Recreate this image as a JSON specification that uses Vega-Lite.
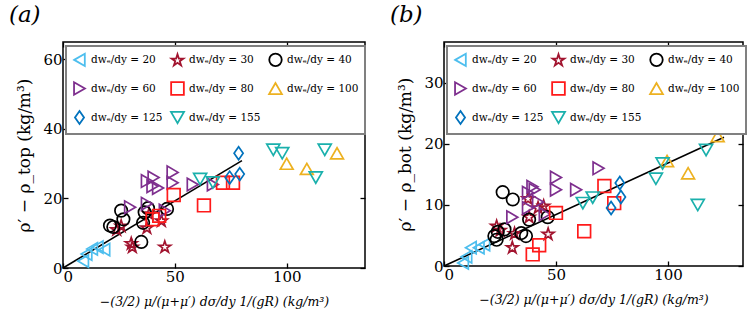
{
  "$schema": "https://vega.github.io/schema/vega-lite/v6.json",
  "padding": {"left": 8, "top": 3, "right": 3, "bottom": 3},
  "background": "white",
  "config": {
    "font": "DejaVu Serif",
    "view": {"stroke": "black", "strokeWidth": 1.5},
    "axis": {"domain": false, "grid": false, "ticks": true, "tickSize": -5, "tickColor": "black", "tickWidth": 1.3, "labelFontSize": 15, "labelColor": "black", "titleColor": "black", "labelFont": "DejaVu Serif", "titleFont": "DejaVu Serif", "titleFontWeight": "normal", "labelPadding": 6},
    "legend": {"labelFont": "DejaVu Serif", "labelFontSize": 10.5, "labelColor": "black", "symbolStrokeWidth": 1.8, "symbolSize": 55, "strokeColor": "#808080", "strokeWidth": 2, "fillColor": "white", "padding": 6, "rowPadding": 8, "columnPadding": 4, "gridAlign": "all", "labelLimit": 200, "direction": "horizontal", "labelOffset": 4},
    "concat": {"spacing": 22}
  },
  "resolve": {"scale": {"color": "independent", "shape": "independent", "size": "independent"}, "legend": {"color": "independent", "shape": "independent"}},
  "datasets": {
    "a": [
      {"s": "dwₑ/dy = 20", "x": 9, "y": 2}, {"s": "dwₑ/dy = 20", "x": 10.5, "y": 4}, {"s": "dwₑ/dy = 20", "x": 13, "y": 5.5}, {"s": "dwₑ/dy = 20", "x": 15.5, "y": 6}, {"s": "dwₑ/dy = 20", "x": 18.5, "y": 5.3},
      {"s": "dwₑ/dy = 30", "x": 24, "y": 11}, {"s": "dwₑ/dy = 30", "x": 26, "y": 12}, {"s": "dwₑ/dy = 30", "x": 30.5, "y": 7}, {"s": "dwₑ/dy = 30", "x": 31, "y": 6}, {"s": "dwₑ/dy = 30", "x": 37.5, "y": 11.5}, {"s": "dwₑ/dy = 30", "x": 38.5, "y": 15.5}, {"s": "dwₑ/dy = 30", "x": 44, "y": 13.5}, {"s": "dwₑ/dy = 30", "x": 45.5, "y": 6},
      {"s": "dwₑ/dy = 40", "x": 21, "y": 12.2}, {"s": "dwₑ/dy = 40", "x": 22.5, "y": 11.8}, {"s": "dwₑ/dy = 40", "x": 26, "y": 16.5}, {"s": "dwₑ/dy = 40", "x": 27, "y": 14}, {"s": "dwₑ/dy = 40", "x": 35, "y": 7.5}, {"s": "dwₑ/dy = 40", "x": 35.8, "y": 13}, {"s": "dwₑ/dy = 40", "x": 36.5, "y": 16}, {"s": "dwₑ/dy = 40", "x": 38, "y": 17.2}, {"s": "dwₑ/dy = 40", "x": 46.5, "y": 17},
      {"s": "dwₑ/dy = 60", "x": 30, "y": 17.5}, {"s": "dwₑ/dy = 60", "x": 37.5, "y": 18.5}, {"s": "dwₑ/dy = 60", "x": 37.5, "y": 25}, {"s": "dwₑ/dy = 60", "x": 40, "y": 23.5}, {"s": "dwₑ/dy = 60", "x": 40.5, "y": 26}, {"s": "dwₑ/dy = 60", "x": 42.5, "y": 23}, {"s": "dwₑ/dy = 60", "x": 45.5, "y": 16.5}, {"s": "dwₑ/dy = 60", "x": 49, "y": 27.5}, {"s": "dwₑ/dy = 60", "x": 49, "y": 24.5}, {"s": "dwₑ/dy = 60", "x": 58, "y": 24}, {"s": "dwₑ/dy = 60", "x": 67, "y": 24},
      {"s": "dwₑ/dy = 80", "x": 40, "y": 14}, {"s": "dwₑ/dy = 80", "x": 43, "y": 15}, {"s": "dwₑ/dy = 80", "x": 49.5, "y": 21}, {"s": "dwₑ/dy = 80", "x": 63, "y": 18}, {"s": "dwₑ/dy = 80", "x": 71.5, "y": 24.5}, {"s": "dwₑ/dy = 80", "x": 76, "y": 24.5},
      {"s": "dwₑ/dy = 100", "x": 100, "y": 30}, {"s": "dwₑ/dy = 100", "x": 109, "y": 28.5}, {"s": "dwₑ/dy = 100", "x": 122.5, "y": 33},
      {"s": "dwₑ/dy = 125", "x": 74.5, "y": 26}, {"s": "dwₑ/dy = 125", "x": 78.5, "y": 33}, {"s": "dwₑ/dy = 125", "x": 79, "y": 27},
      {"s": "dwₑ/dy = 155", "x": 61.3, "y": 25.6}, {"s": "dwₑ/dy = 155", "x": 67, "y": 24.6}, {"s": "dwₑ/dy = 155", "x": 94, "y": 34}, {"s": "dwₑ/dy = 155", "x": 98, "y": 33}, {"s": "dwₑ/dy = 155", "x": 113, "y": 26}, {"s": "dwₑ/dy = 155", "x": 117, "y": 34}
    ],
    "b": [
      {"s": "dwₑ/dy = 20", "x": 8.5, "y": 0.5}, {"s": "dwₑ/dy = 20", "x": 10, "y": 1.5}, {"s": "dwₑ/dy = 20", "x": 12, "y": 3}, {"s": "dwₑ/dy = 20", "x": 15.5, "y": 3}, {"s": "dwₑ/dy = 20", "x": 18, "y": 3.5},
      {"s": "dwₑ/dy = 30", "x": 23.5, "y": 6.5}, {"s": "dwₑ/dy = 30", "x": 25, "y": 5.8}, {"s": "dwₑ/dy = 30", "x": 30.5, "y": 3}, {"s": "dwₑ/dy = 30", "x": 31.5, "y": 5.3}, {"s": "dwₑ/dy = 30", "x": 37.5, "y": 11}, {"s": "dwₑ/dy = 30", "x": 38, "y": 8}, {"s": "dwₑ/dy = 30", "x": 42, "y": 9.5}, {"s": "dwₑ/dy = 30", "x": 44.5, "y": 9.8}, {"s": "dwₑ/dy = 30", "x": 46.5, "y": 5.2},
      {"s": "dwₑ/dy = 40", "x": 22.5, "y": 4.9}, {"s": "dwₑ/dy = 40", "x": 23.5, "y": 4.3}, {"s": "dwₑ/dy = 40", "x": 24, "y": 5.6}, {"s": "dwₑ/dy = 40", "x": 26.2, "y": 12.1}, {"s": "dwₑ/dy = 40", "x": 27, "y": 6}, {"s": "dwₑ/dy = 40", "x": 30.7, "y": 10.9}, {"s": "dwₑ/dy = 40", "x": 34.5, "y": 5.4}, {"s": "dwₑ/dy = 40", "x": 36.6, "y": 4.9}, {"s": "dwₑ/dy = 40", "x": 38, "y": 7.6}, {"s": "dwₑ/dy = 40", "x": 46.3, "y": 8},
      {"s": "dwₑ/dy = 60", "x": 30.5, "y": 8}, {"s": "dwₑ/dy = 60", "x": 37.5, "y": 9.5}, {"s": "dwₑ/dy = 60", "x": 37.5, "y": 12}, {"s": "dwₑ/dy = 60", "x": 39.5, "y": 13}, {"s": "dwₑ/dy = 60", "x": 40.5, "y": 12.5}, {"s": "dwₑ/dy = 60", "x": 42, "y": 10.5}, {"s": "dwₑ/dy = 60", "x": 45, "y": 8.5}, {"s": "dwₑ/dy = 60", "x": 50, "y": 14.5}, {"s": "dwₑ/dy = 60", "x": 50, "y": 12.5}, {"s": "dwₑ/dy = 60", "x": 59, "y": 12.5}, {"s": "dwₑ/dy = 60", "x": 69, "y": 16},
      {"s": "dwₑ/dy = 80", "x": 39.6, "y": 1.9}, {"s": "dwₑ/dy = 80", "x": 42.5, "y": 3.4}, {"s": "dwₑ/dy = 80", "x": 50, "y": 8.7}, {"s": "dwₑ/dy = 80", "x": 62.6, "y": 5.7}, {"s": "dwₑ/dy = 80", "x": 71.6, "y": 13.1}, {"s": "dwₑ/dy = 80", "x": 76, "y": 10.3},
      {"s": "dwₑ/dy = 100", "x": 99.6, "y": 17.2}, {"s": "dwₑ/dy = 100", "x": 109, "y": 15.2}, {"s": "dwₑ/dy = 100", "x": 122.2, "y": 21.3},
      {"s": "dwₑ/dy = 125", "x": 74.6, "y": 9.5}, {"s": "dwₑ/dy = 125", "x": 78.5, "y": 13.6}, {"s": "dwₑ/dy = 125", "x": 79, "y": 11.3},
      {"s": "dwₑ/dy = 155", "x": 62, "y": 10.3}, {"s": "dwₑ/dy = 155", "x": 66.4, "y": 11.2}, {"s": "dwₑ/dy = 155", "x": 94.6, "y": 14.3}, {"s": "dwₑ/dy = 155", "x": 97.6, "y": 16.8}, {"s": "dwₑ/dy = 155", "x": 113.3, "y": 10}, {"s": "dwₑ/dy = 155", "x": 117, "y": 19}
    ],
    "fitA": [{"x": 0, "y": 0}, {"x": 80, "y": 30.9}],
    "fitB": [{"x": 0, "y": 0}, {"x": 125, "y": 21.1}]
  },
  "hconcat": [
    {
      "title": {"text": "(a)", "anchor": "start", "fontSize": 23, "fontStyle": "italic", "font": "DejaVu Serif", "fontWeight": "normal", "offset": 14, "frame": "bounds", "color": "black", "dx": -7},
      "width": 302, "height": 226,
      "layer": [
        {
          "data": {"name": "fitA"},
          "mark": {"type": "line", "color": "black", "strokeWidth": 1.6},
          "encoding": {
            "x": {"field": "x", "type": "quantitative", "scale": {"domain": [0, 135], "nice": false}, "axis": {"values": [0, 50, 100], "title": "−(3/2) μ/(μ+μ′) dσ/dy 1/(gR)  (kg/m³)", "titleFontSize": 12.5, "titleFontStyle": "italic", "titlePadding": 11}},
            "y": {"field": "y", "type": "quantitative", "scale": {"domain": [0, 65], "nice": false}, "axis": {"values": [0, 20, 40, 60], "title": "ρ′ − ρ_top  (kg/m³)", "titleFontSize": 17, "titlePadding": 9}}
          }
        },
        {
          "data": {"name": "a"},
          "mark": {"type": "point", "filled": false, "strokeWidth": 1.7, "opacity": 1},
          "encoding": {
            "x": {"field": "x", "type": "quantitative", "axis": null},
            "y": {"field": "y", "type": "quantitative", "axis": null},
            "shape": {"field": "s", "type": "nominal", "scale": {"domain": ["dwₑ/dy = 20", "dwₑ/dy = 30", "dwₑ/dy = 40", "dwₑ/dy = 60", "dwₑ/dy = 80", "dwₑ/dy = 100", "dwₑ/dy = 125", "dwₑ/dy = 155"], "range": ["triangle-left", "M0,-1L0.2245,-0.309L0.951,-0.309L0.363,0.118L0.588,0.809L0,0.382L-0.588,0.809L-0.363,0.118L-0.951,-0.309L-0.2245,-0.309Z", "circle", "triangle-right", "square", "triangle-up", "M0,-1L0.7,0L0,1L-0.7,0Z", "triangle-down"]}, "legend": {"orient": "none", "legendX": 3, "legendY": 4, "columns": 3, "title": null}},
            "color": {"field": "s", "type": "nominal", "scale": {"domain": ["dwₑ/dy = 20", "dwₑ/dy = 30", "dwₑ/dy = 40", "dwₑ/dy = 60", "dwₑ/dy = 80", "dwₑ/dy = 100", "dwₑ/dy = 125", "dwₑ/dy = 155"], "range": ["#4DBEEE", "#A2142F", "#000000", "#7E2F8E", "#FF1A1A", "#EDB120", "#0072BD", "#1AB0AC"]}, "legend": {"orient": "none", "legendX": 3, "legendY": 4, "columns": 3, "title": null}},
            "size": {"field": "s", "type": "nominal", "scale": {"domain": ["dwₑ/dy = 20", "dwₑ/dy = 30", "dwₑ/dy = 40", "dwₑ/dy = 60", "dwₑ/dy = 80", "dwₑ/dy = 100", "dwₑ/dy = 125", "dwₑ/dy = 155"], "range": [150, 170, 110, 170, 90, 220, 170, 180]}, "legend": null}
          }
        },
        {
          "mark": {"type": "text", "font": "Open Sans", "fontSize": 17, "align": "right", "baseline": "alphabetic", "color": "black"},
          "encoding": {"x": {"datum": 127, "axis": null}, "y": {"datum": 3.5, "axis": null}, "text": {"value": "100 cSt"}}
        },
        {
          "data": {"name": "fitA"},
          "mark": {"type": "point", "opacity": 0},
          "encoding": {
            "x": {"field": "x", "type": "quantitative", "axis": {"orient": "top", "values": [0, 50, 100], "labels": false, "title": null}},
            "y": {"field": "y", "type": "quantitative", "axis": {"orient": "right", "values": [0, 20, 40, 60], "labels": false, "title": null}}
          }
        }
      ],
      "resolve": {"axis": {"x": "independent", "y": "independent"}}
    },
    {
      "title": {"text": "(b)", "anchor": "start", "fontSize": 23, "fontStyle": "italic", "font": "DejaVu Serif", "fontWeight": "normal", "offset": 14, "frame": "bounds", "color": "black", "dx": -7},
      "width": 299, "height": 224,
      "layer": [
        {
          "data": {"name": "fitB"},
          "mark": {"type": "line", "color": "black", "strokeWidth": 1.6},
          "encoding": {
            "x": {"field": "x", "type": "quantitative", "scale": {"domain": [0, 133.5], "nice": false}, "axis": {"values": [0, 50, 100], "title": "−(3/2) μ/(μ+μ′) dσ/dy 1/(gR)  (kg/m³)", "titleFontSize": 12.5, "titleFontStyle": "italic", "titlePadding": 11}},
            "y": {"field": "y", "type": "quantitative", "scale": {"domain": [0, 36.7], "nice": false}, "axis": {"values": [0, 10, 20, 30], "title": "ρ′ − ρ_bot  (kg/m³)", "titleFontSize": 17, "titlePadding": 9}}
          }
        },
        {
          "data": {"name": "b"},
          "mark": {"type": "point", "filled": false, "strokeWidth": 1.7, "opacity": 1},
          "encoding": {
            "x": {"field": "x", "type": "quantitative", "axis": null},
            "y": {"field": "y", "type": "quantitative", "axis": null},
            "shape": {"field": "s", "type": "nominal", "scale": {"domain": ["dwₑ/dy = 20", "dwₑ/dy = 30", "dwₑ/dy = 40", "dwₑ/dy = 60", "dwₑ/dy = 80", "dwₑ/dy = 100", "dwₑ/dy = 125", "dwₑ/dy = 155"], "range": ["triangle-left", "M0,-1L0.2245,-0.309L0.951,-0.309L0.363,0.118L0.588,0.809L0,0.382L-0.588,0.809L-0.363,0.118L-0.951,-0.309L-0.2245,-0.309Z", "circle", "triangle-right", "square", "triangle-up", "M0,-1L0.7,0L0,1L-0.7,0Z", "triangle-down"]}, "legend": {"orient": "none", "legendX": 3, "legendY": 4, "columns": 3, "title": null}},
            "color": {"field": "s", "type": "nominal", "scale": {"domain": ["dwₑ/dy = 20", "dwₑ/dy = 30", "dwₑ/dy = 40", "dwₑ/dy = 60", "dwₑ/dy = 80", "dwₑ/dy = 100", "dwₑ/dy = 125", "dwₑ/dy = 155"], "range": ["#4DBEEE", "#A2142F", "#000000", "#7E2F8E", "#FF1A1A", "#EDB120", "#0072BD", "#1AB0AC"]}, "legend": {"orient": "none", "legendX": 3, "legendY": 4, "columns": 3, "title": null}},
            "size": {"field": "s", "type": "nominal", "scale": {"domain": ["dwₑ/dy = 20", "dwₑ/dy = 30", "dwₑ/dy = 40", "dwₑ/dy = 60", "dwₑ/dy = 80", "dwₑ/dy = 100", "dwₑ/dy = 125", "dwₑ/dy = 155"], "range": [150, 170, 110, 170, 90, 220, 170, 180]}, "legend": null}
          }
        },
        {
          "mark": {"type": "text", "font": "Open Sans", "fontSize": 17, "align": "right", "baseline": "alphabetic", "color": "black"},
          "encoding": {"x": {"datum": 129.5, "axis": null}, "y": {"datum": 3, "axis": null}, "text": {"value": "100 cSt"}}
        },
        {
          "data": {"name": "fitB"},
          "mark": {"type": "point", "opacity": 0},
          "encoding": {
            "x": {"field": "x", "type": "quantitative", "axis": {"orient": "top", "values": [0, 50, 100], "labels": false, "title": null}},
            "y": {"field": "y", "type": "quantitative", "axis": {"orient": "right", "values": [0, 10, 20, 30], "labels": false, "title": null}}
          }
        }
      ],
      "resolve": {"axis": {"x": "independent", "y": "independent"}}
    }
  ]
}
